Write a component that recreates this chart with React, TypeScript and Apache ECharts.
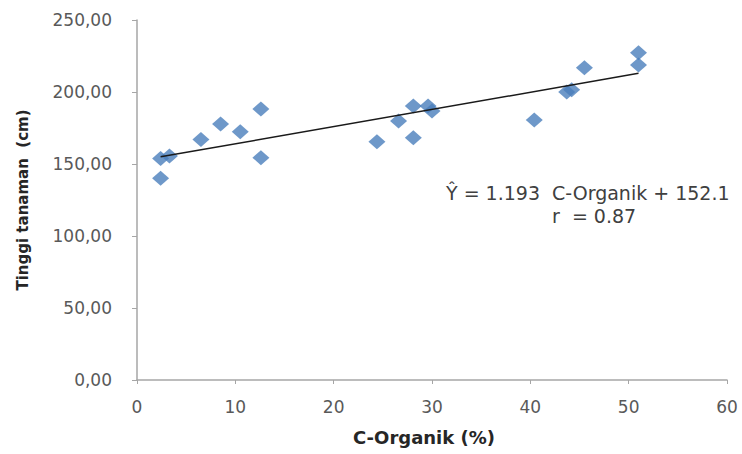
import React, { useEffect, useRef } from "react";
import * as echarts from "echarts";

const cOrganik: number[] = [2.4, 2.4, 3.3, 6.5, 8.5, 10.5, 12.6, 12.6, 24.4, 26.6, 28.1, 28.1, 29.6, 30.0, 40.4, 43.7, 44.2, 45.5, 51.0, 51.0];
const tinggi: number[] = [140.1, 153.9, 155.5, 167.1, 177.8, 172.4, 188.2, 154.4, 165.5, 179.9, 190.3, 168.3, 190.3, 186.8, 180.6, 200.0, 201.5, 216.8, 227.3, 218.8];
const slope = 1.193;
const intercept = 152.1;
const trendX: number[] = [2.4, 51.0];
const yTicks = { min: 0, max: 250, interval: 50 };
const xTicks = { min: 0, max: 60, interval: 10 };
const equationText = "Ŷ = 1.193  C-Organik + 152.1";
const rText = "r  = 0.87";

const FONT = "'DejaVu Sans', sans-serif";

export default function App() {
  const ref = useRef<HTMLDivElement>(null);
  useEffect(() => {
    document.body.style.margin = "0";
    document.body.style.overflow = "hidden";
    if (!ref.current) return;
    const chart = echarts.init(ref.current, null, { renderer: "svg" });
    const points = cOrganik.map((x, i) => [x, tinggi[i]]);
    const trend = trendX.map((x) => [x, slope * x + intercept]);
    chart.setOption({
      animation: false,
      backgroundColor: "#ffffff",
      textStyle: { fontFamily: FONT },
      grid: { left: 137, right: 15, top: 20, bottom: 74 },
      xAxis: {
        type: "value",
        min: xTicks.min,
        max: xTicks.max,
        interval: xTicks.interval,
        name: "C-Organik (%)",
        nameLocation: "middle",
        nameGap: 57,
        nameTextStyle: {
          fontFamily: FONT,
          fontSize: 18,
          fontWeight: "bold",
          color: "#262626",
          verticalAlign: "middle",
          padding: [0, 16, 0, 0],
        },
        axisLine: { show: true, lineStyle: { color: "#a6a6a6", width: 1.5 } },
        axisTick: { show: true, inside: false, length: 4, lineStyle: { color: "#a6a6a6" } },
        axisLabel: { fontFamily: FONT, fontSize: 17, color: "#595959", margin: 18 },
        splitLine: { show: false },
      },
      yAxis: {
        type: "value",
        min: yTicks.min,
        max: yTicks.max,
        interval: yTicks.interval,
        name: "Tinggi tanaman  (cm)",
        nameLocation: "middle",
        nameGap: 114,
        nameTextStyle: { fontFamily: FONT, fontSize: 15, fontWeight: "bold", color: "#262626", verticalAlign: "middle" },
        axisLine: { show: true, lineStyle: { color: "#a6a6a6", width: 1.5 } },
        axisTick: { show: true, length: 5, lineStyle: { color: "#a6a6a6" } },
        axisLabel: {
          fontFamily: FONT,
          fontSize: 17,
          color: "#595959",
          margin: 25,
          formatter: (v: number) => v.toFixed(2).replace(".", ","),
        },
        splitLine: { show: false },
      },
      series: [
        {
          type: "line",
          data: trend,
          symbol: "none",
          lineStyle: { color: "#1a1a1a", width: 1.5 },
          z: 3,
        },
        {
          type: "scatter",
          data: points,
          symbol: "diamond",
          symbolSize: [17, 15],
          itemStyle: { color: "#4a7ebb" },
          z: 2,
        },
      ],
      graphic: [
        {
          type: "text",
          left: 446,
          top: 183,
          style: { text: equationText, fontFamily: FONT, fontSize: 19, fill: "#404040" },
        },
        {
          type: "text",
          left: 552,
          top: 206,
          style: { text: rText, fontFamily: FONT, fontSize: 19, fill: "#404040" },
        },
      ],
    });
    return () => chart.dispose();
  }, []);
  return <div ref={ref} style={{ width: 742, height: 454 }} />;
}
